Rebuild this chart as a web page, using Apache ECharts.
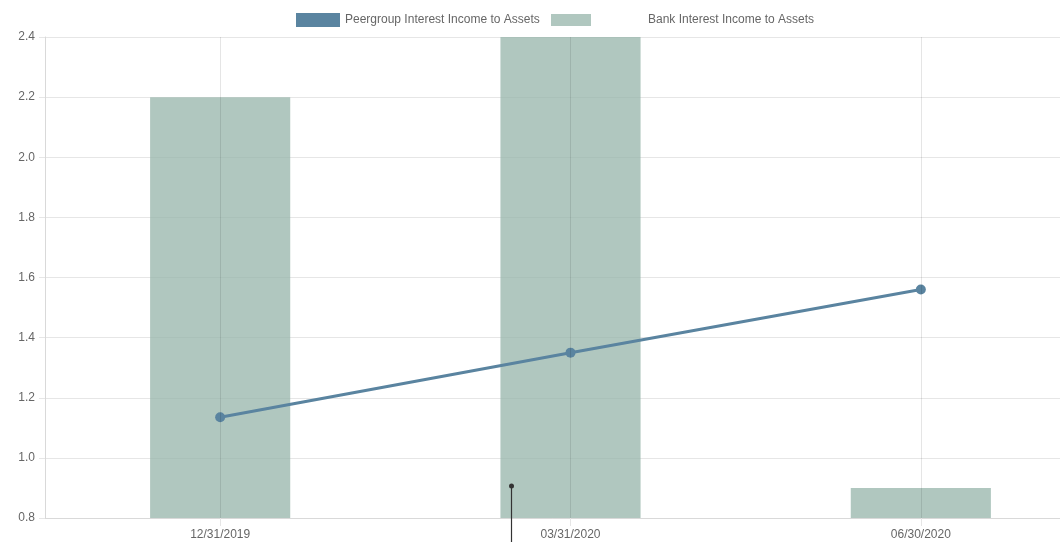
<!DOCTYPE html>
<html>
<head>
<meta charset="utf-8">
<script src="https://cdn.jsdelivr.net/npm/echarts@6/dist/echarts.min.js"></script>
<style>
html,body{margin:0;padding:0;background:#fff;}
#c{width:1060px;height:542px;}
</style>
</head>
<body>
<div id="c"></div>
<script>
const categories = ['12/31/2019', '03/31/2020', '06/30/2020'];
const peerValues = [1.135, 1.35, 1.56];
const bankValues = [2.2, 2.5, 0.9];
const yTicks = { min: 0.8, max: 2.4, interval: 0.2 };
const peerName = 'Peergroup Interest Income to Assets';
const bankName = 'Bank Interest Income to Assets';

const FONT = '"Liberation Sans", Arial, sans-serif';
const gridColor = '#e6e6e6';
const chart = echarts.init(document.getElementById('c'));
chart.setOption({
  animation: false,
  textStyle: { fontFamily: FONT },
  grid: { left: 45, right: -36, top: 37, bottom: 24, outerBoundsMode: 'none', containLabel: false },
  legend: [
    {
      left: 296, top: 13, padding: 0, itemWidth: 44, itemHeight: 14, itemGap: 4,
      data: [{ name: peerName, icon: 'rect' }],
      textStyle: { color: '#666', fontSize: 12, fontFamily: FONT },
      selectedMode: false
    },
    {
      left: 551, top: 14, padding: 0, itemWidth: 40, itemHeight: 12,
      data: [{ name: bankName, icon: 'rect' }],
      textStyle: { color: '#666', fontSize: 12, fontFamily: FONT, padding: [0, 0, 0, 52] },
      selectedMode: false
    }
  ],
  xAxis: {
    type: 'category',
    data: categories,
    boundaryGap: true,
    axisLine: { show: true, lineStyle: { color: '#d9d9d9' } },
    axisTick: { show: true, alignWithLabel: true, length: 8, lineStyle: { color: gridColor } },
    axisLabel: { color: '#666', fontSize: 12, margin: 11, fontFamily: FONT },
    splitLine: { show: false }
  },
  yAxis: {
    type: 'value',
    min: yTicks.min, max: yTicks.max, interval: yTicks.interval,
    axisLine: { show: true, lineStyle: { color: '#d9d9d9' } },
    axisTick: { show: true, length: 6, lineStyle: { color: gridColor } },
    axisLabel: { color: '#666', fontSize: 12, margin: 10, fontFamily: FONT,
      formatter: v => v.toFixed(1) },
    splitLine: { show: true, lineStyle: { color: gridColor, width: 1 } }
  },
  series: [
    {
      name: bankName,
      type: 'bar',
      data: bankValues,
      barWidth: '40%',
      clip: true,
      itemStyle: { color: 'rgb(150,180,170)', opacity: 0.75 },
      z: 1,
      markLine: {
        silent: true,
        symbol: ['none', 'none'],
        label: { show: false },
        lineStyle: { color: 'rgba(0,0,0,0.1)', type: 'solid', width: 1 },
        data: categories.map(c => ({ xAxis: c }))
      }
    },
    {
      name: peerName,
      type: 'line',
      data: peerValues,
      symbol: 'circle',
      symbolSize: 10,
      lineStyle: { color: '#5a84a0', width: 3 },
      itemStyle: { color: '#5a84a0' },
      z: 3
    }
  ],
  graphic: [
    { type: 'line', shape: { x1: 511.5, y1: 486, x2: 511.5, y2: 542 }, style: { stroke: '#333', lineWidth: 1.2 }, z: 100 },
    { type: 'circle', shape: { cx: 511.5, cy: 486, r: 2.5 }, style: { fill: '#333' }, z: 100 }
  ]
});
</script>
</body>
</html>
